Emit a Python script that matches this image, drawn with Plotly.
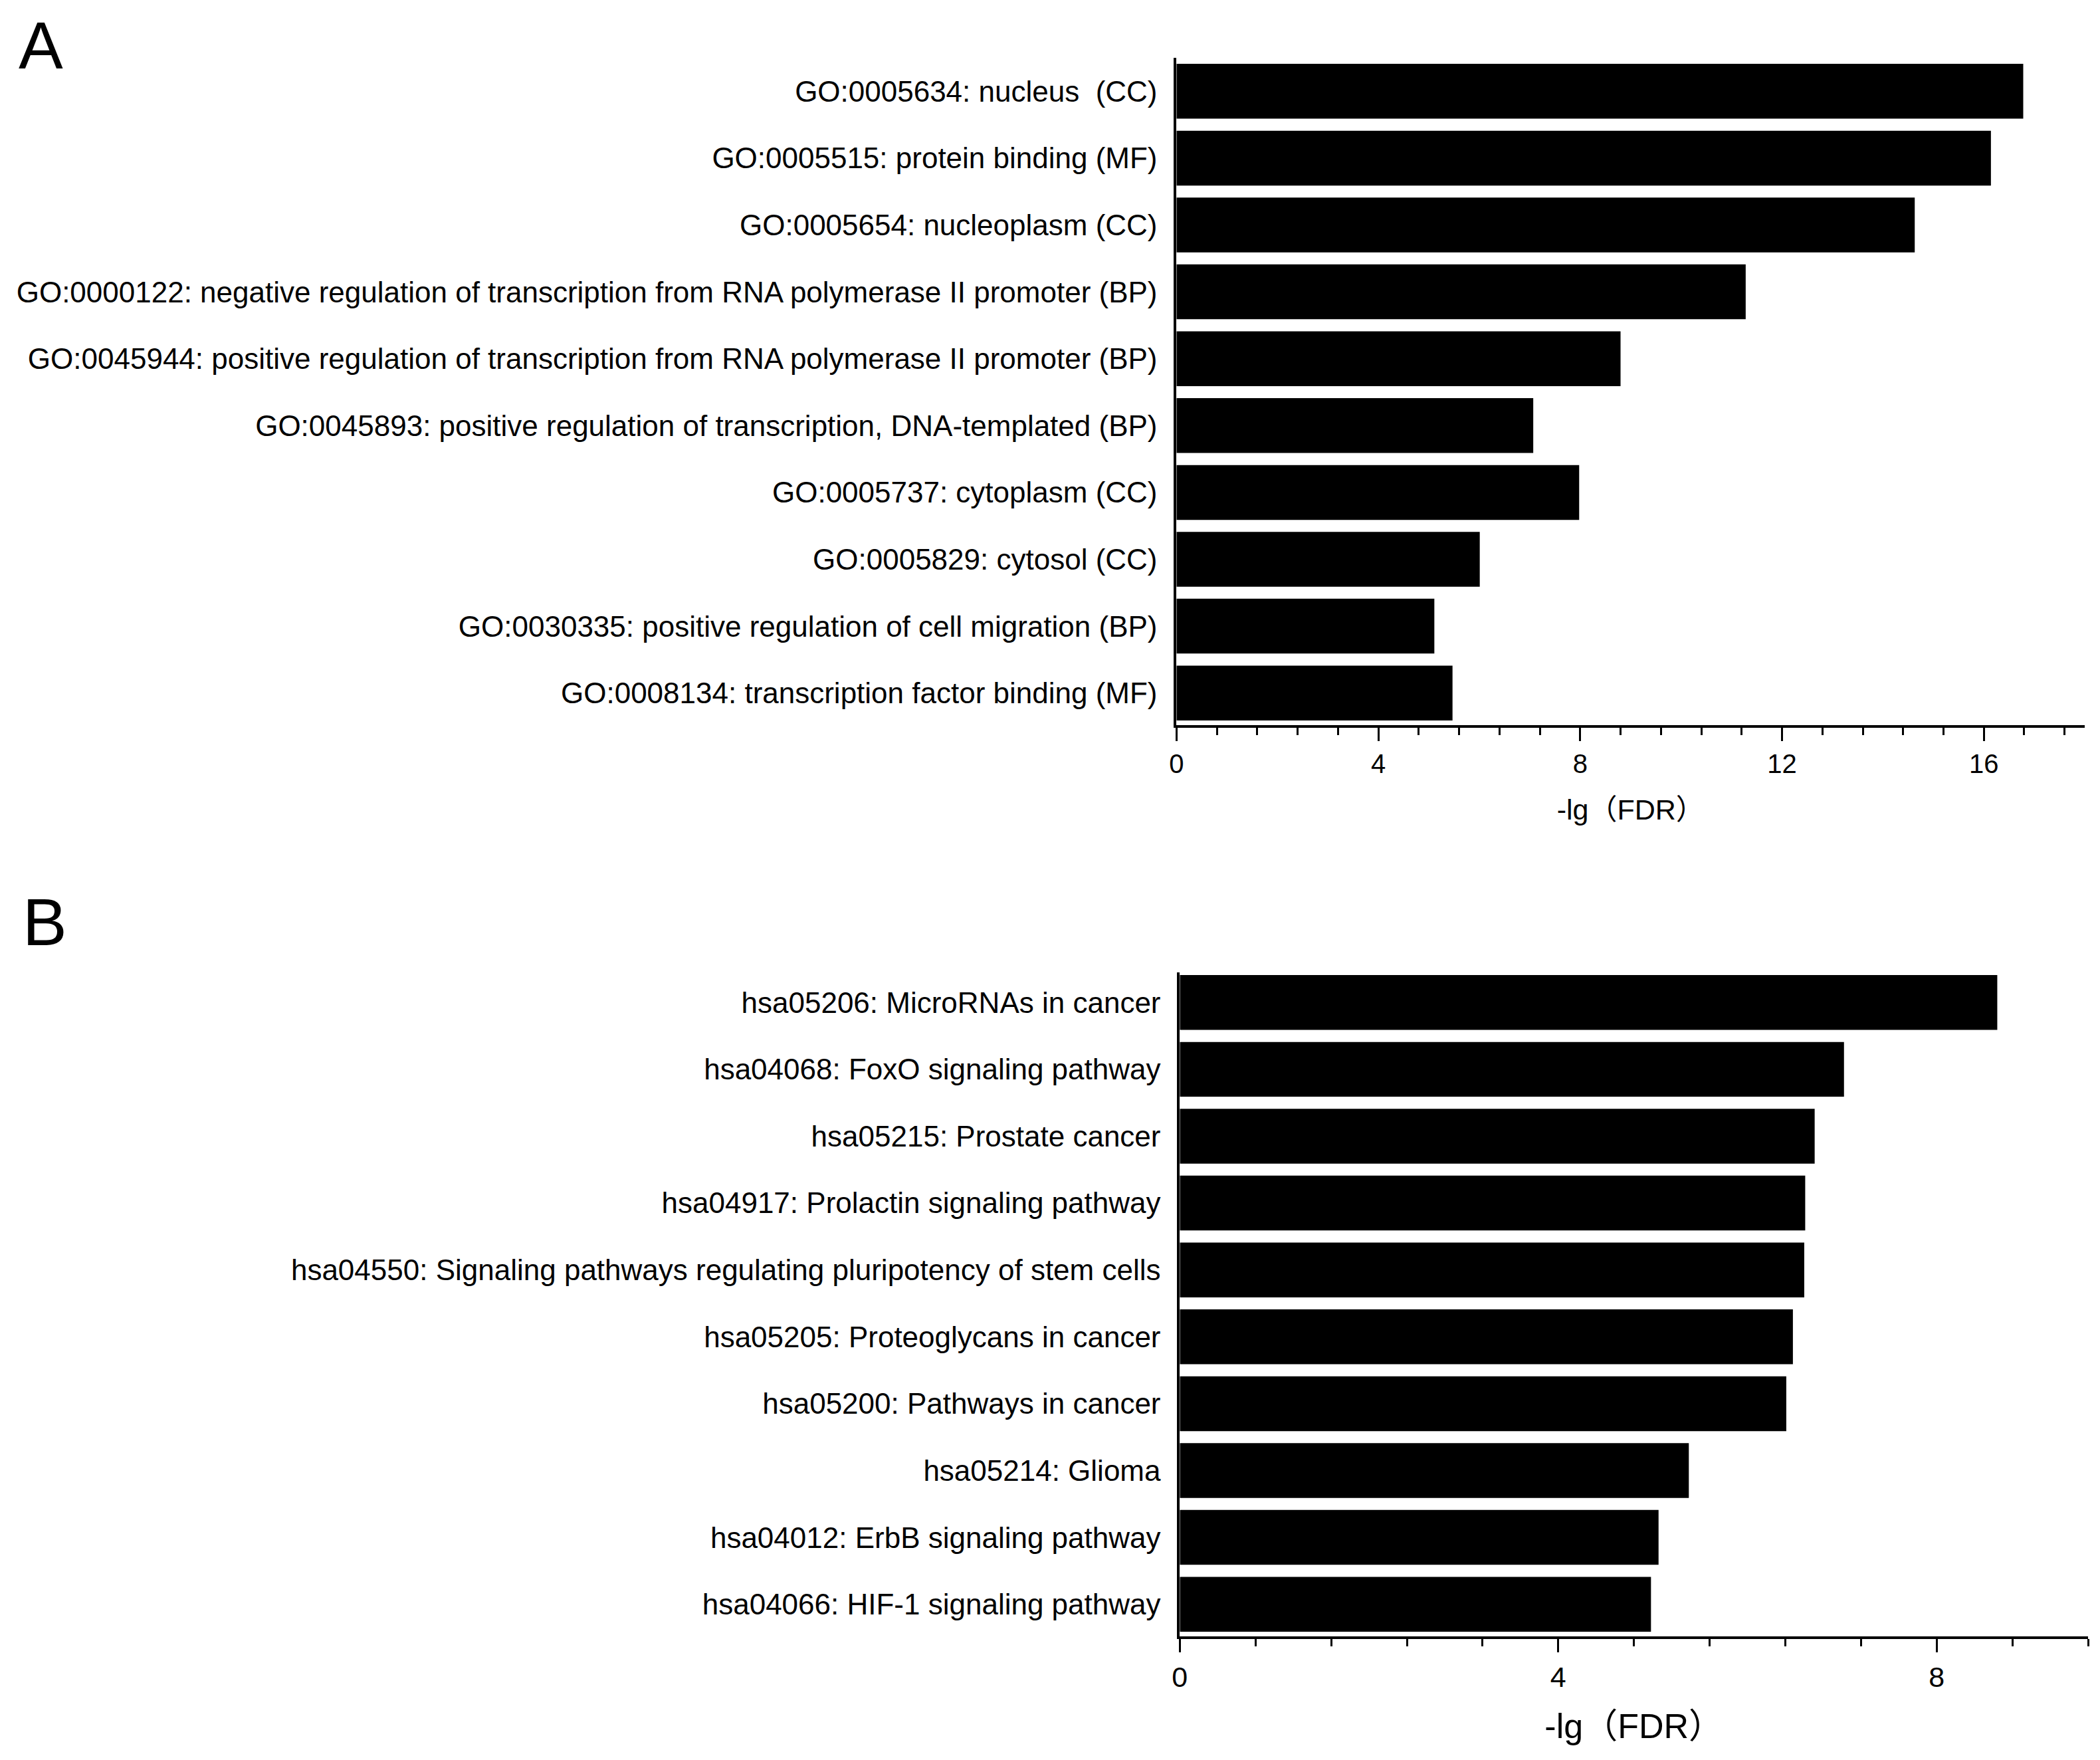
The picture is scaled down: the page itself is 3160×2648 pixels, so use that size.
import plotly.graph_objects as go

go_terms = [
    "GO:0005634: nucleus  (CC)",
    "GO:0005515: protein binding (MF)",
    "GO:0005654: nucleoplasm (CC)",
    "GO:0000122: negative regulation of transcription from RNA polymerase II promoter (BP)",
    "GO:0045944: positive regulation of transcription from RNA polymerase II promoter (BP)",
    "GO:0045893: positive regulation of transcription, DNA-templated (BP)",
    "GO:0005737: cytoplasm (CC)",
    "GO:0005829: cytosol (CC)",
    "GO:0030335: positive regulation of cell migration (BP)",
    "GO:0008134: transcription factor binding (MF)",
]
go_values = [16.78, 16.14, 14.63, 11.28, 8.80, 7.07, 7.98, 6.01, 5.11, 5.47]

kegg_terms = [
    "hsa05206: MicroRNAs in cancer",
    "hsa04068: FoxO signaling pathway",
    "hsa05215: Prostate cancer",
    "hsa04917: Prolactin signaling pathway",
    "hsa04550: Signaling pathways regulating pluripotency of stem cells",
    "hsa05205: Proteoglycans in cancer",
    "hsa05200: Pathways in cancer",
    "hsa05214: Glioma",
    "hsa04012: ErbB signaling pathway",
    "hsa04066: HIF-1 signaling pathway",
]
kegg_values = [8.64, 7.02, 6.71, 6.61, 6.60, 6.48, 6.41, 5.38, 5.06, 4.98]

x_title = "-lg（FDR）"
panel_labels = ["A", "B"]

FONT = "Liberation Sans, Arial, Noto Sans CJK SC, sans-serif"
W, H = 3160, 2648

fig = go.Figure()
fig.add_trace(go.Bar(x=go_values, y=go_terms, orientation="h",
                     marker=dict(color="#000000", line=dict(width=0)),
                     width=0.82, xaxis="x", yaxis="y", showlegend=False))
fig.add_trace(go.Bar(x=kegg_values, y=kegg_terms, orientation="h",
                     marker=dict(color="#000000", line=dict(width=0)),
                     width=0.82, xaxis="x2", yaxis="y2", showlegend=False))

def xaxis_cfg(domain, anchor, rng, tickfont, titlefont, standoff):
    return dict(
        domain=domain, anchor=anchor, range=rng,
        showline=True, linecolor="black", linewidth=4,
        ticks="outside", ticklen=20, tickwidth=3, tickcolor="black",
        tick0=0, dtick=4,
        minor=dict(ticks="outside", ticklen=11, tickwidth=3, tickcolor="black", dtick=0.8, tick0=0),
        showgrid=False, zeroline=False,
        tickfont=dict(family=FONT, size=tickfont, color="black"),
        title=dict(text=x_title, font=dict(family=FONT, size=titlefont, color="black"), standoff=standoff),
        ticklabelstandoff=0,
    )

def yaxis_cfg(domain, anchor, rng):
    return dict(
        domain=domain, anchor=anchor, type="category", range=rng,
        showline=True, linecolor="black", linewidth=4,
        ticks="", showgrid=False, zeroline=False,
        tickfont=dict(family=FONT, size=44, color="black"),
        ticklabelstandoff=16,
    )

fig.update_layout(
    width=W, height=H,
    margin=dict(l=0, r=0, t=0, b=0),
    paper_bgcolor="white", plot_bgcolor="white",
    xaxis=xaxis_cfg([1757 / W, 3129 / W], "y", [0, 18], 40, 43, 34),
    yaxis=yaxis_cfg([1 - 1083 / H, 1 - 79 / H], "x", [9.48, -0.5]),
    xaxis2=xaxis_cfg([1762 / W, 3134 / W], "y2", [0, 9.6], 43, 52, 34),
    yaxis2=yaxis_cfg([1 - 2454 / H, 1 - 1455 / H], "x2", [9.48, -0.45]),
    annotations=[
        dict(text=panel_labels[0], x=42 / W, y=1 - 2 / H, xref="paper", yref="paper",
             xanchor="center", yanchor="top", showarrow=False,
             font=dict(family=FONT, size=100, color="black")),
        dict(text=panel_labels[1], x=48 / W, y=1 - 1379 / H, xref="paper", yref="paper",
             xanchor="center", yanchor="middle", showarrow=False,
             font=dict(family=FONT, size=100, color="black")),
    ],
)

fig.write_html("out.html")
